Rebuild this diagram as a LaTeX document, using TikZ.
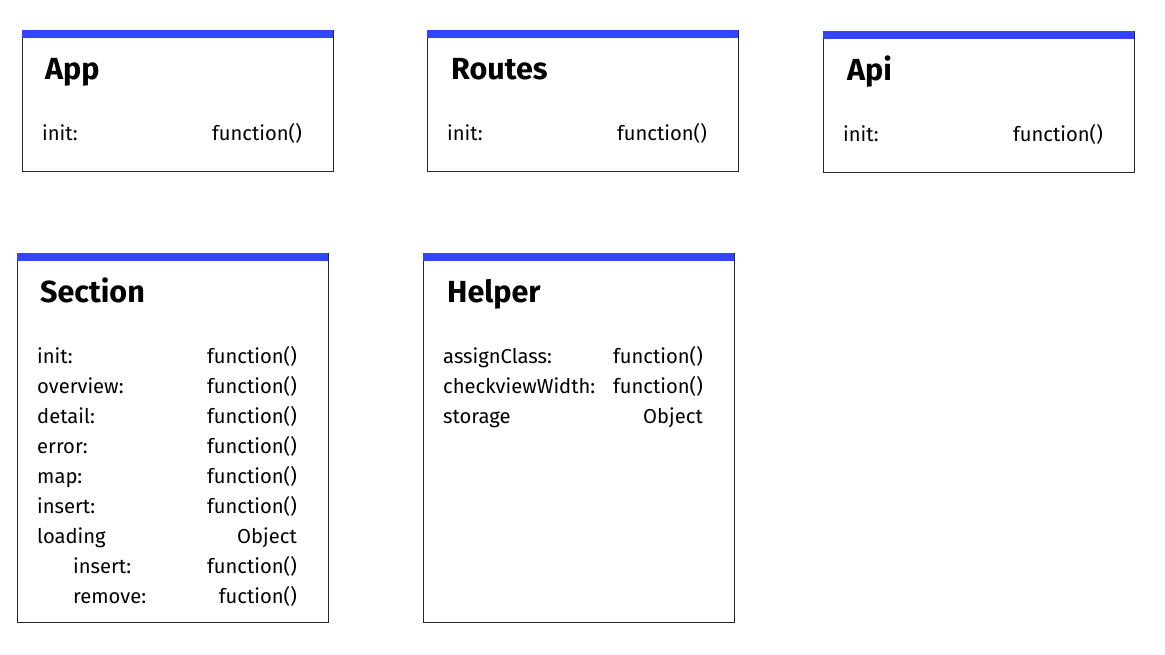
\documentclass[tikz,border=0pt]{standalone}
\usepackage{fontspec}
\setmainfont{Fira Sans}
\definecolor{barblue}{RGB}{51,68,255}
\definecolor{boxline}{RGB}{40,40,40}
\tikzset{
  classbox/.style={draw=boxline, line width=1pt, anchor=north west, minimum width=311pt, inner sep=0pt, outer sep=0pt},
  titletext/.style={anchor=base west, inner sep=0pt, font=\fontsize{30.5}{34}\selectfont\bfseries},
  keytext/.style={anchor=base west, inner sep=0pt, font=\fontsize{20.2}{24}\selectfont},
  valtext/.style={anchor=base east, inner sep=0pt, font=\fontsize{20.2}{24}\selectfont},
}
\begin{document}
\begin{tikzpicture}[x=1pt,y=-1pt]
\useasboundingbox (0,0) rectangle (1165,654);
% boxes
\node[classbox, minimum height=141pt] (app) at (22,30) {};
\node[classbox, minimum height=141pt] (routes) at (427,30) {};
\node[classbox, minimum height=141pt] (api) at (823,31) {};
\node[classbox, minimum height=369pt] (section) at (17,253) {};
\node[classbox, minimum height=369pt] (helper) at (423,253) {};
\foreach \b in {app,routes,api,section,helper}{
  \fill[barblue] (\b.north west) rectangle ([yshift=-8pt]\b.north east);
}
% App
\node[titletext] (appT) at ([xshift=23pt,yshift=-49pt]app.north west) {App};
\node[keytext] (appK1) at ([xshift=20pt,yshift=-110pt]app.north west) {init:};
\node[valtext] (appV1) at ([xshift=-31pt,yshift=-110pt]app.north east) {function()};
% Routes
\node[titletext] (routesT) at ([xshift=24pt,yshift=-49pt]routes.north west) {Routes};
\node[keytext] (routesK1) at ([xshift=20pt,yshift=-110pt]routes.north west) {init:};
\node[valtext] (routesV1) at ([xshift=-31pt,yshift=-110pt]routes.north east) {function()};
% Api
\node[titletext] (apiT) at ([xshift=24pt,yshift=-49pt]api.north west) {Api};
\node[keytext] (apiK1) at ([xshift=20pt,yshift=-110pt]api.north west) {init:};
\node[valtext] (apiV1) at ([xshift=-31pt,yshift=-110pt]api.north east) {function()};
% Section
\node[titletext] (sectionT) at ([xshift=23pt,yshift=-49pt]section.north west) {Section};
\foreach \k/\v/\i/\ind in {init:/function()/0/0, overview:/function()/1/0, detail:/function()/2/0, error:/function()/3/0, map:/function()/4/0, insert:/function()/5/0, loading/Object/6/0, insert:/function()/7/36, remove:/fuction()/8/36}{
  \node[keytext] (sectionK\i) at ([xshift=20pt+\ind pt,yshift=-110pt-30pt*\i]section.north west) {\k};
  \node[valtext] (sectionV\i) at ([xshift=-31pt,yshift=-110pt-30pt*\i]section.north east) {\v};
}
% Helper
\node[titletext] (helperT) at ([xshift=24pt,yshift=-49pt]helper.north west) {Helper};
\foreach \k/\v/\i in {assignClass:/function()/0, checkviewWidth:/function()/1, storage/Object/2}{
  \node[keytext] (helperK\i) at ([xshift=20pt,yshift=-110pt-30pt*\i]helper.north west) {\k};
  \node[valtext] (helperV\i) at ([xshift=-31pt,yshift=-110pt-30pt*\i]helper.north east) {\v};
}
\end{tikzpicture}
\end{document}
